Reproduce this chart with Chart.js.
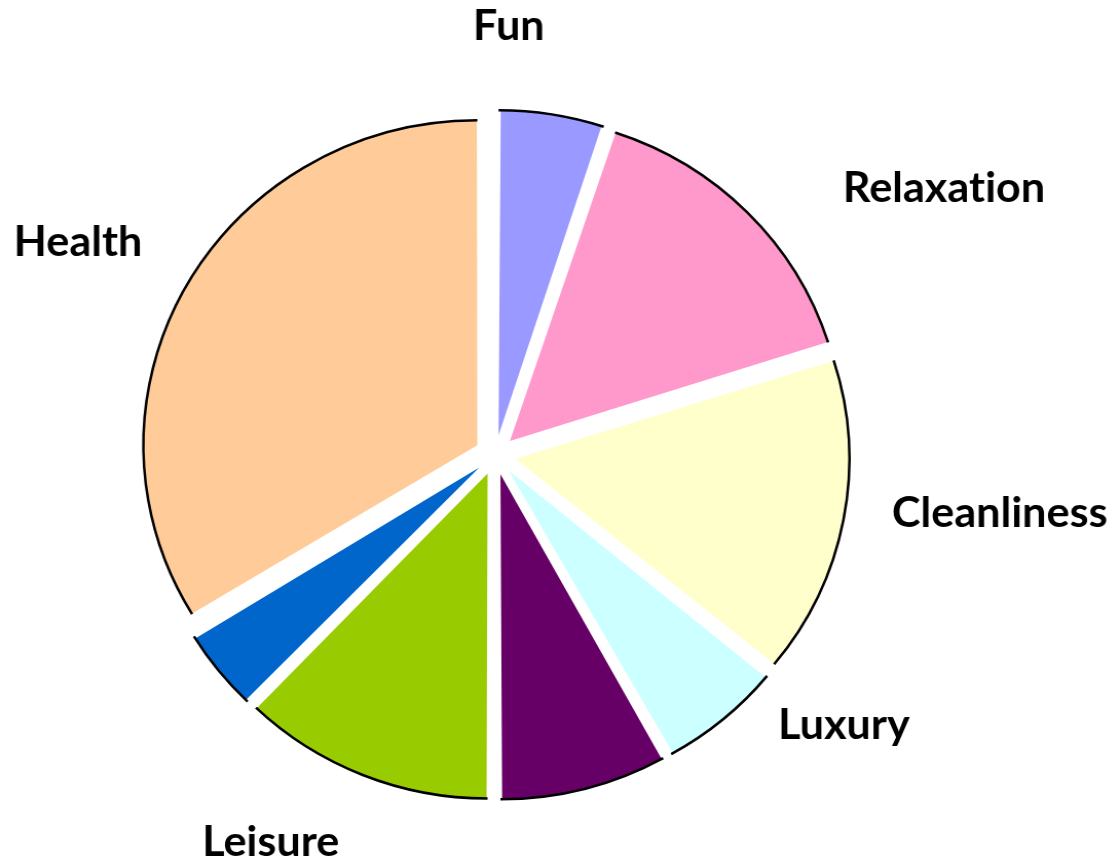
<!DOCTYPE html>
<html>
<head>
<meta charset="utf-8">
<script src="https://cdn.jsdelivr.net/npm/chart.js@4.4.0/dist/chart.umd.min.js"></script>
<style>
  html, body { margin: 0; padding: 0; background: #fff; overflow: hidden; }
  /* the source picture is a touch wider than tall, so stretch the chart a little */
  #wrap { width: 1089px; height: 866px; transform: scaleX(1.0275); transform-origin: 0 0; }
</style>
</head>
<body>
<div id="wrap"><canvas id="chart"></canvas></div>
<script>
// Slices run clockwise from 12 o'clock; two slices carry no label
const categories = ['Fun', 'Relaxation', 'Cleanliness', 'Luxury', '', 'Leisure', '', 'Health'];
const shares = [5.1, 15.0, 15.8, 6.0, 8.1, 12.2, 4.1, 33.7];
const sliceColors = ['#9999FF', '#FF99CC', '#FFFFCC', '#CCFFFF', '#660066', '#99CC00', '#0066CC', '#FFCC99'];

const RADIUS = 325;
const EXPLODE = 20;   // px every slice is pulled away from the centre

// Chart.js moves an arc by offset/4 but also grows narrow arcs by
// offset/4 * (1 - sin(circumference)); take that back so all slices share one radius
const evenRadius = {
    id: 'evenRadius',
    beforeDatasetsDraw(chart) {
        const meta = chart.getDatasetMeta(0);
        const base = meta.controller.outerRadius;
        meta.data.forEach(arc => {
            const fix = 1 - Math.sin(Math.min(Math.PI, arc.circumference));
            arc.outerRadius = base - EXPLODE * fix;
        });
    }
};

// black line on the curved edge only (not on the radial sides)
const outerEdge = {
    id: 'outerEdge',
    afterDatasetsDraw(chart) {
        const ctx = chart.ctx;
        const meta = chart.getDatasetMeta(0);
        const r = meta.controller.outerRadius;
        ctx.save();
        ctx.strokeStyle = '#000';
        ctx.lineWidth = 2.5;
        meta.data.forEach(arc => {
            const mid = (arc.startAngle + arc.endAngle) / 2;
            ctx.beginPath();
            ctx.arc(arc.x + Math.cos(mid) * EXPLODE, arc.y + Math.sin(mid) * EXPLODE,
                    r, arc.startAngle, arc.endAngle);
            ctx.stroke();
        });
        ctx.restore();
    }
};

// category names outside the pie, pushed out so the text box clears the rim
const sliceLabels = {
    id: 'sliceLabels',
    afterDatasetsDraw(chart, args, opts) {
        const ctx = chart.ctx;
        const meta = chart.getDatasetMeta(0);
        const r = meta.controller.outerRadius;
        const cap = opts.size * 0.72;
        ctx.save();
        ctx.font = `bold ${opts.size}px Lato, "Open Sans", sans-serif`;
        ctx.textRendering = 'optimizeSpeed';   // no "ti" ligature
        ctx.fillStyle = '#000';
        ctx.textAlign = 'center';
        ctx.textBaseline = 'alphabetic';
        meta.data.forEach((arc, i) => {
            const text = chart.data.labels[i];
            if (!text) return;
            const [da, dr] = opts.nudge[i] || [0, 0];
            const a = (arc.startAngle + arc.endAngle) / 2 + da * Math.PI / 180;
            const d = r + EXPLODE + opts.gap + dr;
            const w = ctx.measureText(text).width;
            const x = arc.x + Math.cos(a) * (d + w / 2);
            const y = arc.y + Math.sin(a) * (d + cap / 2);
            ctx.fillText(text, x, y + cap / 2);
        });
        ctx.restore();
    }
};

new Chart(document.getElementById('chart').getContext('2d'), {
    type: 'pie',
    data: {
        labels: categories,
        datasets: [{
            data: shares,
            backgroundColor: sliceColors,
            borderWidth: 0,
            offset: EXPLODE * 4,
            radius: RADIUS
        }]
    },
    options: {
        responsive: true,
        maintainAspectRatio: false,
        animation: false,
        events: [],
        layout: { padding: { left: 0, right: 125, top: 44, bottom: 0 } },
        plugins: {
            legend: { display: false },
            tooltip: { enabled: false },
            sliceLabels: {
                size: 42,
                gap: 70,
                // [degrees, px] placement tweaks per label
                nudge: [[-7.5, 0], [8.7, 26], [-2.7, -24], [-8.4, -25], null, [4.9, 2], null, [1, -7]]
            }
        }
    },
    plugins: [evenRadius, outerEdge, sliceLabels]
});
</script>
</body>
</html>
